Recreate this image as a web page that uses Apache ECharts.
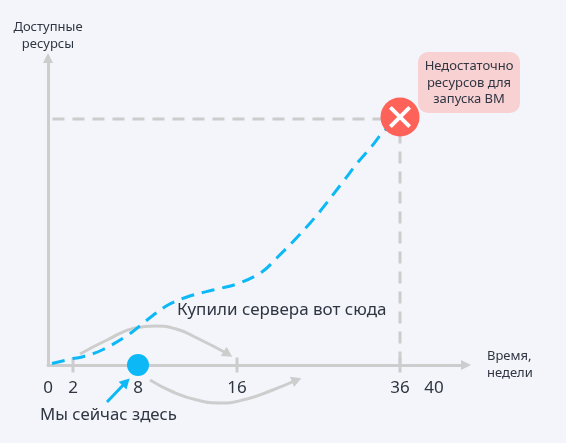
<!DOCTYPE html>
<html>
<head>
<meta charset="utf-8">
<style>html,body{margin:0;padding:0;background:#f3f5fa}#c{width:566px;height:443px}</style>
<script src="https://cdn.jsdelivr.net/npm/echarts@6/dist/echarts.min.js"></script>
</head>
<body>
<div id="c"></div>
<script>
// Time axis: the picture's week ticks are not evenly spaced
const tickWeeks = [0, 2, 8, 16, 36, 40];
const tickAxisPos = [0, 25, 90, 189, 352, 386];
const markedWeeks = [2, 16, 36];
const axisEndPos = 418;
const axisTopValue = 307;

// Available resources (dashed blue curve)
const curveWeeks = [0.32, 2, 2.83, 4.68, 7.08, 8.73, 10.42, 11.96, 14.06, 16, 19.05, 21, 22.83, 24.54, 26.12, 29.17, 30.76, 32.46, 34.05, 36];
const curveValues = [1.5, 6.5, 8, 15, 30, 45, 60, 68, 75, 81, 93, 108, 123, 138, 153, 185, 202, 218, 234, 246];

// Grey guide lines to the failure point
const guideWeeks = [0.36, 36, 36];
const guideValues = [246, 246, 0];

// Grey arrows
const arcAWeeks = [2.65, 5.14, 7.72, 9.4, 11.1, 12.77, 15.27];
const arcAValues = [11, 25, 37, 39, 36, 27, 11];
const arcBWeeks = [8.97, 10.83, 12.77, 14.63, 17.22, 20.39, 23.32];
const arcBValues = [-15, -27, -35, -38, -34, -25, -15];

// Blue arrow pointing at "now"
const pointerWeeks = [5.14, 6.9];
const pointerValues = [-37, -17];

const nowWeek = 8;
const limitWeek = 36;
const limitValue = 248;

const INK = '#2f3541';
const FONT = '"Noto Sans", sans-serif';
const GREY = '#cdcdcd';
const BLUE = '#0cb8f6';

function pos(w) {
  for (let i = 1; i < tickWeeks.length; i++) {
    if (w <= tickWeeks[i]) {
      const t = (w - tickWeeks[i - 1]) / (tickWeeks[i] - tickWeeks[i - 1]);
      return tickAxisPos[i - 1] + t * (tickAxisPos[i] - tickAxisPos[i - 1]);
    }
  }
  return tickAxisPos[tickAxisPos.length - 1];
}
const pairs = (xs, ys) => xs.map((w, i) => [pos(w), ys[i]]);
function withArrow(xs, ys, rotate, size) {
  const d = pairs(xs, ys).map(p => ({ value: p, symbol: 'none' }));
  d[d.length - 1] = { value: d[d.length - 1].value, symbol: 'triangle', symbolSize: size, symbolRotate: rotate };
  return d;
}
const CROSS = 'path://M3 0L12 9L21 0L24 3L15 12L24 21L21 24L12 15L3 24L0 21L9 12L0 3Z';

const chart = echarts.init(document.getElementById('c'), null, { renderer: 'canvas' });
chart.setOption({
  animation: false,
  backgroundColor: '#f3f5fa',
  textStyle: { fontFamily: FONT },
  grid: { left: 48, right: 100, top: 58, bottom: 78, containLabel: false },
  xAxis: {
    type: 'value', min: 0, max: axisEndPos, splitLine: { show: false },
    name: 'Время,\nнедели', nameLocation: 'end', nameGap: 21,
    nameTextStyle: { color: INK, fontSize: 13, lineHeight: 17, fontFamily: FONT, align: 'left', verticalAlign: 'middle', padding: [0, 0, 6, 0] },
    axisLine: { lineStyle: { color: GREY, width: 3 }, symbol: ['none', 'triangle'], symbolSize: [10, 10], symbolOffset: [0, 0] },
    axisTick: { show: false },
    axisLabel: {
      customValues: tickWeeks.map(pos), color: INK, fontSize: 17, margin: 15, fontFamily: FONT,
      showMinLabel: true, showMaxLabel: true, hideOverlap: false,
      formatter: v => String(tickWeeks[tickAxisPos.indexOf(v)])
    }
  },
  yAxis: {
    type: 'value', min: 0, max: axisTopValue, splitLine: { show: false },
    name: 'Доступные\nресурсы', nameLocation: 'end', nameGap: 5,
    nameTextStyle: { color: INK, fontSize: 13, lineHeight: 17, fontFamily: FONT, align: 'center' },
    axisLine: { lineStyle: { color: GREY, width: 3 }, symbol: ['none', 'triangle'], symbolSize: [10, 10], symbolOffset: [0, 0] },
    axisTick: { show: false }, axisLabel: { show: false }
  },
  series: [
    { type: 'line', name: 'guide', data: pairs(guideWeeks, guideValues), symbol: 'none', clip: false, z: 2,
      lineStyle: { color: GREY, width: 3, type: [12, 8] } },
    { type: 'scatter', name: 'ticks', data: markedWeeks.map(w => [pos(w), 0]), symbol: 'rect', symbolSize: [3, 15], clip: false, z: 3,
      itemStyle: { color: GREY, opacity: 1 } },
    { type: 'line', name: 'arcA', data: withArrow(arcAWeeks, arcAValues, -122, [11, 10]), smooth: 0.5, showAllSymbol: true, clip: false, z: 4,
      lineStyle: { color: GREY, width: 3 }, itemStyle: { color: GREY } },
    { type: 'line', name: 'arcB', data: withArrow(arcBWeeks, arcBValues, -68, [11, 10]), smooth: 0.5, showAllSymbol: true, clip: false, z: 4,
      lineStyle: { color: GREY, width: 3 }, itemStyle: { color: GREY } },
    { type: 'line', name: 'resources', data: pairs(curveWeeks, curveValues), smooth: 0.35, symbol: 'none', clip: false, z: 5,
      lineStyle: { color: BLUE, width: 3, type: [13, 8] } },
    { type: 'line', name: 'pointer', data: withArrow(pointerWeeks, pointerValues, -45, [11, 10]), showAllSymbol: true, clip: false, z: 5,
      lineStyle: { color: BLUE, width: 3 }, itemStyle: { color: BLUE } },
    { type: 'scatter', name: 'now', data: [[pos(nowWeek), 0]], symbolSize: 22, clip: false, z: 6,
      itemStyle: { color: BLUE, opacity: 1 } },
    { type: 'scatter', name: 'limit', data: [[pos(limitWeek), limitValue]], symbolSize: 39, clip: false, z: 6,
      itemStyle: { color: '#ff6259', opacity: 1 } },
    { type: 'scatter', name: 'limitCross', data: [[pos(limitWeek), limitValue]], symbol: CROSS, symbolSize: 22, clip: false, z: 7,
      itemStyle: { color: '#ffffff', opacity: 1 } }
  ],
  graphic: [
    { type: 'rect', z: 1, shape: { x: 418, y: 52, width: 102, height: 61, r: 10 }, style: { fill: '#f8d1d3' } },
    { type: 'text', z: 2, x: 469, y: 83, style: { text: 'Недостаточно\nресурсов для\nзапуска ВМ', fill: INK, font: '13px ' + FONT, lineHeight: 16.5, align: 'center', verticalAlign: 'middle' } },
    { type: 'text', z: 2, x: 177, y: 310, style: { text: 'Купили сервера вот сюда', fill: INK, font: '17px ' + FONT, align: 'left', verticalAlign: 'middle' } },
    { type: 'text', z: 2, x: 40, y: 415, style: { text: 'Мы сейчас здесь', fill: INK, font: '16.8px ' + FONT, align: 'left', verticalAlign: 'middle' } }
  ]
});
</script>
</body>
</html>
